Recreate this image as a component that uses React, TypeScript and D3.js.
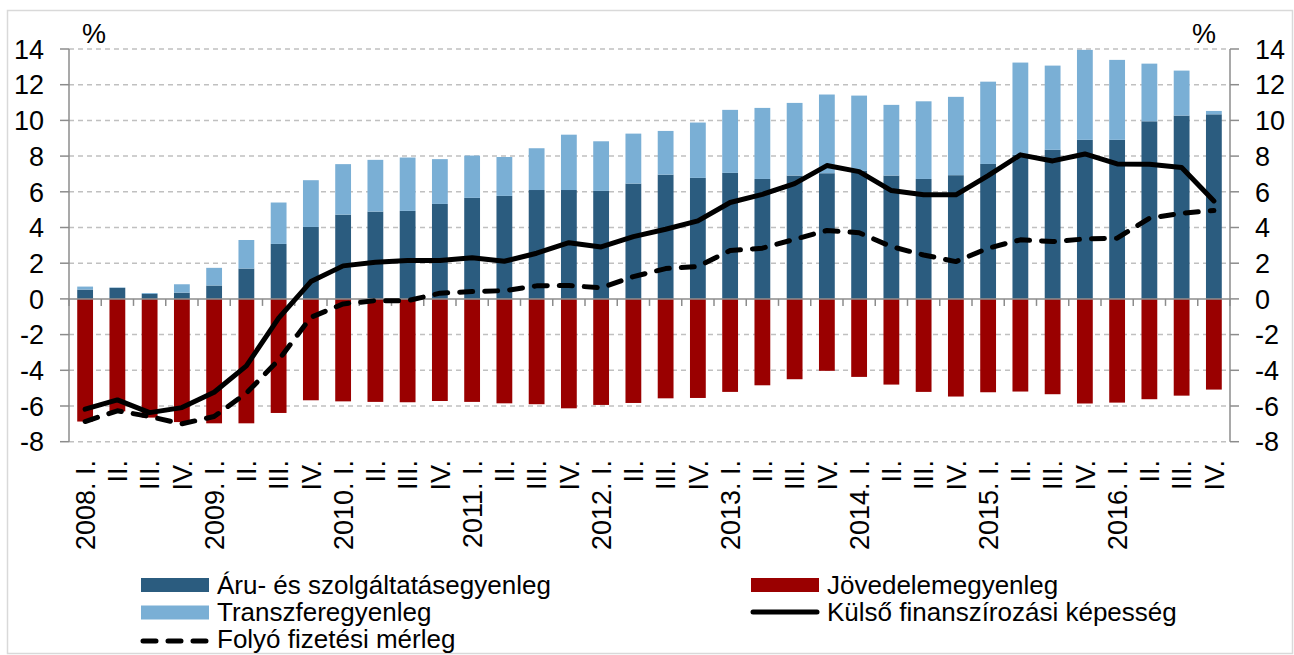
import * as d3 from 'd3';

// quarters 2008 I – 2016 IV
const years = ['2008', '2009', '2010', '2011', '2012', '2013', '2014', '2015', '2016'];
const quarters = ['I.', 'II.', 'III.', 'IV.'];
const categories = years.flatMap((y) => quarters.map((q, i) => (i === 0 ? `${y}. ${q}` : q)));

// Áru- és szolgáltatásegyenleg
const goods = [
  0.52, 0.62, 0.28, 0.35, 0.75, 1.7, 3.08, 4.03, 4.72, 4.89, 4.93, 5.32,
  5.66, 5.77, 6.1, 6.1, 6.05, 6.46, 6.96, 6.78, 7.06, 6.72, 6.91, 7.04,
  7.17, 6.91, 6.72, 6.93, 7.56, 8.07, 8.35, 8.91, 8.91, 9.95, 10.27, 10.34,
];
// Transzferegyenleg
const transfers = [
  0.17, 0.02, 0.05, 0.47, 0.99, 1.6, 2.32, 2.62, 2.83, 2.9, 2.99, 2.51,
  2.37, 2.18, 2.34, 3.1, 2.78, 2.8, 2.45, 3.1, 3.53, 3.98, 4.07, 4.41,
  4.22, 3.96, 4.35, 4.39, 4.61, 5.17, 4.72, 5.04, 4.48, 3.23, 2.52, 0.19,
];
// Jövedelemegyenleg
const income = [
  -6.87, -6.3, -6.65, -6.9, -6.97, -6.97, -6.39, -5.68, -5.74, -5.77, -5.79, -5.72,
  -5.77, -5.85, -5.9, -6.13, -5.94, -5.83, -5.57, -5.55, -5.21, -4.84, -4.5, -4.03,
  -4.37, -4.8, -5.21, -5.47, -5.23, -5.19, -5.34, -5.86, -5.81, -5.62, -5.42, -5.08,
];
// Külső finanszírozási képesség
const financing = [
  -6.18, -5.66, -6.37, -6.09, -5.23, -3.75, -1.08, 0.97, 1.85, 2.05, 2.15, 2.15,
  2.31, 2.11, 2.56, 3.15, 2.91, 3.49, 3.9, 4.37, 5.4, 5.86, 6.46, 7.47,
  7.13, 6.07, 5.83, 5.83, 6.91, 8.07, 7.73, 8.12, 7.56, 7.54, 7.36, 5.49,
];
// Folyó fizetési mérleg
const currentAccount = [
  -6.87, -6.27, -6.59, -7.0, -6.59, -5.28, -3.42, -1.03, -0.28, -0.1, -0.1, 0.32,
  0.41, 0.46, 0.73, 0.75, 0.62, 1.25, 1.7, 1.81, 2.71, 2.84, 3.34, 3.83,
  3.71, 2.93, 2.46, 2.09, 2.84, 3.31, 3.21, 3.36, 3.4, 4.52, 4.8, 4.95,
];

const yTicks = [-8, -6, -4, -2, 0, 2, 4, 6, 8, 10, 12, 14];

const COLORS = {
  goods: '#2b5c7f',
  transfers: '#7aafd5',
  income: '#9a0000',
  axis: '#8c8c8c',
  grid: '#c0c0c0',
};

const FONT = 'Arial, "Liberation Sans", sans-serif';

const App = () => {
  const width = 1294;
  const height = 655;
  const left = 69;
  const right = 1230;

  const x = d3
    .scaleBand<number>()
    .domain(d3.range(categories.length))
    .range([left, right])
    .paddingInner(0.51)
    .paddingOuter(0.255);

  const y = d3.scaleLinear().domain([-8, 14]).range([441.7, 49]);

  const cx = (i: number) => (x(i) as number) + x.bandwidth() / 2;
  const step = x.step();

  const line = d3
    .line<number>()
    .x((_, i) => cx(i))
    .y((d) => y(d));

  return (
    <svg
      width={width}
      height={height}
      style={{ position: 'absolute', left: 0, top: 0, background: '#fff' }}
      fontFamily={FONT}
    >
      {/* frame */}
      <rect x={7.5} y={10.5} width={1285} height={643} fill="#fff" stroke="#d9d9d9" strokeWidth={1.5} />

      {/* grid */}
      {yTicks
        .filter((t) => t !== 0)
        .map((t) => (
          <line
            key={`g${t}`}
            x1={left}
            x2={right}
            y1={y(t)}
            y2={y(t)}
            stroke={COLORS.grid}
            strokeWidth={1.5}
            strokeDasharray="5,4"
          />
        ))}

      {/* bars */}
      {categories.map((_, i) => (
        <g key={`b${i}`}>
          <rect
            x={x(i)}
            width={x.bandwidth()}
            y={y(goods[i])}
            height={y(0) - y(goods[i])}
            fill={COLORS.goods}
          />
          <rect
            x={x(i)}
            width={x.bandwidth()}
            y={y(goods[i] + transfers[i])}
            height={y(goods[i]) - y(goods[i] + transfers[i])}
            fill={COLORS.transfers}
          />
          <rect
            x={x(i)}
            width={x.bandwidth()}
            y={y(0)}
            height={y(income[i]) - y(0)}
            fill={COLORS.income}
          />
        </g>
      ))}

      {/* axes */}
      <line x1={left} x2={left} y1={y(14)} y2={y(-8)} stroke={COLORS.axis} strokeWidth={1.5} />
      <line x1={right} x2={right} y1={y(14)} y2={y(-8)} stroke={COLORS.axis} strokeWidth={1.5} />
      <line x1={left} x2={right} y1={y(0)} y2={y(0)} stroke={COLORS.axis} strokeWidth={1.5} />
      {d3.range(categories.length + 1).map((i) => (
        <line
          key={`xt${i}`}
          x1={left + i * step}
          x2={left + i * step}
          y1={y(0)}
          y2={y(0) + 7}
          stroke={COLORS.axis}
          strokeWidth={1.5}
        />
      ))}
      {yTicks.map((t) => (
        <g key={`yt${t}`}>
          <line x1={left - 9} x2={left} y1={y(t)} y2={y(t)} stroke={COLORS.axis} strokeWidth={1.5} />
          <line x1={right} x2={right + 9} y1={y(t)} y2={y(t)} stroke={COLORS.axis} strokeWidth={1.5} />
          <text x={44} y={y(t)} dy="0.36em" textAnchor="end" fontSize={27} fill="#000">
            {t}
          </text>
          <text x={1255} y={y(t)} dy="0.36em" textAnchor="start" fontSize={27} fill="#000">
            {t}
          </text>
        </g>
      ))}
      <text x={82} y={43} fontSize={27}>%</text>
      <text x={1192} y={43} fontSize={27}>%</text>

      {/* category labels */}
      {categories.map((c, i) => (
        <text
          key={`c${i}`}
          transform={`translate(${cx(i)},460) rotate(-90)`}
          dy="0.36em"
          textAnchor="end"
          fontSize={27}
        >
          {c}
        </text>
      ))}

      {/* lines */}
      <path
        d={line(financing) ?? ''}
        fill="none"
        stroke="#000"
        strokeWidth={5}
        strokeLinejoin="round"
        strokeLinecap="round"
      />
      <path
        d={line(currentAccount) ?? ''}
        fill="none"
        stroke="#000"
        strokeWidth={5}
        strokeLinejoin="round"
        strokeLinecap="round"
        strokeDasharray="13,12"
      />

      {/* legend */}
      <g fontSize={26}>
        <rect x={141} y={578} width={68} height={14} fill={COLORS.goods} />
        <text x={217} y={594}>Áru- és szolgáltatásegyenleg</text>
        <rect x={141} y={605.5} width={68} height={14} fill={COLORS.transfers} />
        <text x={217} y={621}>Transzferegyenleg</text>
        <line x1={143} x2={207} y1={641} y2={641} stroke="#000" strokeWidth={5} strokeLinecap="round" strokeDasharray="13,12" />
        <text x={217} y={648}>Folyó fizetési mérleg</text>

        <rect x={751} y={578} width={68} height={14} fill={COLORS.income} />
        <text x={827} y={594}>Jövedelemegyenleg</text>
        <line x1={753} x2={817} y1={612} y2={612} stroke="#000" strokeWidth={5} strokeLinecap="round" />
        <text x={827} y={621}>Külső finanszírozási képesség</text>
      </g>
    </svg>
  );
};

export default App;
